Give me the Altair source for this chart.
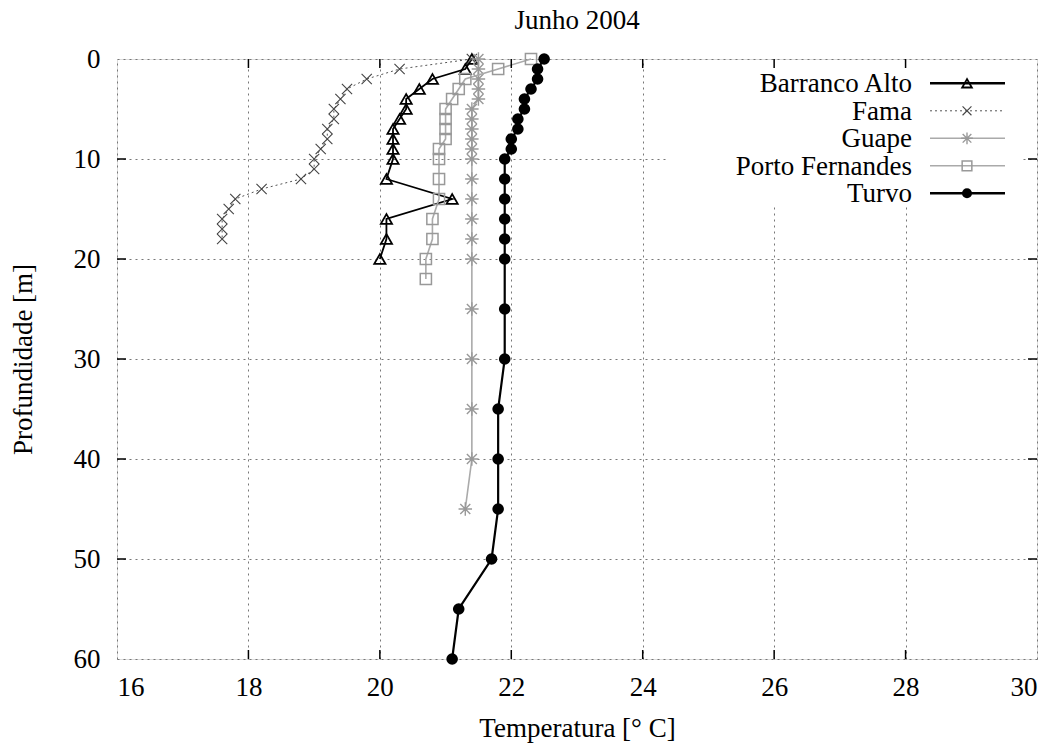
import altair as alt
import pandas as pd

# ---------------- data ----------------
series_names = ["Barranco Alto", "Fama", "Guape", "Porto Fernandes", "Turvo"]

ba_depth = [0, 1, 2, 3, 4, 5, 6, 7, 8, 9, 10, 12, 14, 16, 18, 20]
ba_temp = [21.4, 21.3, 20.8, 20.6, 20.4, 20.4, 20.3, 20.2, 20.2, 20.2, 20.2, 20.1, 21.1, 20.1, 20.1, 20.0]

fa_depth = [0, 1, 2, 3, 4, 5, 6, 7, 8, 9, 10, 11, 12, 13, 14, 15, 16, 17, 18]
fa_temp = [21.4, 20.3, 19.8, 19.5, 19.4, 19.3, 19.3, 19.2, 19.2, 19.1, 19.0, 19.0, 18.8, 18.2, 17.8, 17.7, 17.6, 17.6, 17.6]

gu_depth = [0, 1, 2, 3, 4, 5, 6, 7, 8, 9, 10, 12, 14, 16, 18, 20, 25, 30, 35, 40, 45]
gu_temp = [21.5, 21.5, 21.5, 21.5, 21.5, 21.4, 21.4, 21.4, 21.4, 21.4, 21.4, 21.4, 21.4, 21.4, 21.4, 21.4, 21.4, 21.4, 21.4, 21.4, 21.3]

pf_depth = [0, 1, 2, 3, 4, 5, 6, 7, 8, 9, 10, 12, 14, 16, 18, 20, 22]
pf_temp = [22.3, 21.8, 21.3, 21.2, 21.1, 21.0, 21.0, 21.0, 21.0, 20.9, 20.9, 20.9, 20.9, 20.8, 20.8, 20.7, 20.7]

tu_depth = [0, 1, 2, 3, 4, 5, 6, 7, 8, 9, 10, 12, 14, 16, 18, 20, 25, 30, 35, 40, 45, 50, 55, 60]
tu_temp = [22.5, 22.4, 22.4, 22.3, 22.2, 22.2, 22.1, 22.1, 22.0, 22.0, 21.9, 21.9, 21.9, 21.9, 21.9, 21.9, 21.9, 21.9, 21.8, 21.8, 21.8, 21.7, 21.2, 21.1]

x_ticks = [16, 18, 20, 22, 24, 26, 28, 30]
y_ticks = [0, 10, 20, 30, 40, 50, 60]

title_text = "Junho 2004"
x_title = "Temperatura [° C]"
y_title = "Profundidade [m]"

# ---------------- styling ----------------
FONT = "Liberation Serif"
FS = 27
W, H = 920, 600

X_PATH = "M-1,-1L1,1M-1,1L1,-1"
STAR_PATH = "M-1,-1L1,1M-1,1L1,-1M0,-1.35L0,1.35M-1.35,0L1.35,0"

styles = {
    "Barranco Alto": dict(line="#000000", lw=1.8, dash=None, shape="triangle-up",
                          mcolor="#000000", filled=False, size=125, mw=1.8, leg_lw=2.6),
    "Fama": dict(line="#555555", lw=1.0, dash=[2, 3], shape=X_PATH,
                 mcolor="#444444", filled=False, size=105, mw=1.1, leg_lw=1.0),
    "Guape": dict(line="#aaaaaa", lw=1.6, dash=None, shape=STAR_PATH,
                  mcolor="#999999", filled=False, size=100, mw=1.4, leg_lw=1.6),
    "Porto Fernandes": dict(line="#aaaaaa", lw=1.6, dash=None, shape="square",
                            mcolor="#999999", filled=False, size=125, mw=1.5, leg_lw=1.6),
    "Turvo": dict(line="#000000", lw=2.2, dash=None, shape="circle",
                  mcolor="#000000", filled=True, size=135, mw=1.0, leg_lw=2.6),
}

data_map = {
    "Barranco Alto": (ba_depth, ba_temp),
    "Fama": (fa_depth, fa_temp),
    "Guape": (gu_depth, gu_temp),
    "Porto Fernandes": (pf_depth, pf_temp),
    "Turvo": (tu_depth, tu_temp),
}

xs = alt.Scale(domain=[16, 30], nice=False, zero=False)
ys = alt.Scale(domain=[0, 60], nice=False, zero=False, reverse=True)

x_axis = alt.Axis(values=x_ticks, title=x_title, grid=True, ticks=False, tickSize=0,
                  domain=False, labelPadding=15, labelFontSize=FS, labelFont=FONT,
                  labelColor="black", titleFont=FONT, titleFontSize=FS,
                  titleFontWeight="normal", titleColor="black",
                  titleX=W / 2, titleY=77, titleBaseline="alphabetic",
                  gridColor="#777777", gridDash=[2, 4], gridWidth=1)
y_axis = alt.Axis(values=y_ticks, title=y_title, grid=True, ticks=False, tickSize=0,
                  domain=False, labelPadding=17, labelFontSize=FS, labelFont=FONT,
                  labelColor="black", titleFont=FONT, titleFontSize=FS,
                  titleFontWeight="normal", titleColor="black",
                  titleX=-94, titleY=H / 2, titleBaseline="middle", titleAngle=270,
                  gridColor="#777777", gridDash=[2, 4], gridWidth=1)

layers = []

# white box behind legend (hides the grid there)
box_df = pd.DataFrame({"k": [0]})
layers.append(
    alt.Chart(box_df).mark_rect(color="white").encode(
        x=alt.value(551), x2=alt.value(905), y=alt.value(1), y2=alt.value(148)
    )
)

# series lines and markers
for name in series_names:
    d, t = data_map[name]
    df = pd.DataFrame({"depth": d, "temp": t, "series": name})
    st = styles[name]
    line_kw = dict(color=st["line"], strokeWidth=st["lw"], clip=False)
    if st["dash"]:
        line_kw["strokeDash"] = st["dash"]
    enc = dict(x=alt.X("temp:Q", scale=xs, axis=x_axis),
               y=alt.Y("depth:Q", scale=ys, axis=y_axis))
    layers.append(alt.Chart(df).mark_line(**line_kw).encode(order=alt.Order("depth:Q"), **enc))
    pt_kw = dict(shape=st["shape"], size=st["size"], filled=st["filled"], opacity=1)
    if st["filled"]:
        pt_kw.update(fill=st["mcolor"], color=st["mcolor"], strokeWidth=0)
    else:
        pt_kw.update(stroke=st["mcolor"], color=st["mcolor"], strokeWidth=st["mw"])
    layers.append(alt.Chart(df).mark_point(**pt_kw).encode(**enc))

# inward ticks on all four sides
xt_df = pd.DataFrame({"t": x_ticks[1:-1]})
yt_df = pd.DataFrame({"d": y_ticks[1:-1]})
tick_x = alt.X("t:Q", scale=xs, axis=x_axis)
tick_y = alt.Y("d:Q", scale=ys, axis=y_axis)
layers.append(alt.Chart(xt_df).mark_rule(color="black", strokeWidth=1.5).encode(
    x=tick_x, y=alt.value(H), y2=alt.value(H - 9)))
layers.append(alt.Chart(xt_df).mark_rule(color="black", strokeWidth=1.5).encode(
    x=tick_x, y=alt.value(0), y2=alt.value(9)))
layers.append(alt.Chart(yt_df).mark_rule(color="black", strokeWidth=1.5).encode(
    y=tick_y, x=alt.value(0), x2=alt.value(9)))
layers.append(alt.Chart(yt_df).mark_rule(color="black", strokeWidth=1.5).encode(
    y=tick_y, x=alt.value(W), x2=alt.value(W - 9)))

# legend (labels left of the sample line, as in the reference)
for i, name in enumerate(series_names):
    st = styles[name]
    ypix = 24.3 + i * 27.5
    one = pd.DataFrame({"name": [name]})
    layers.append(alt.Chart(one).mark_text(
        align="right", baseline="middle", font=FONT, fontSize=FS, color="black", dy=1
    ).encode(x=alt.value(795), y=alt.value(ypix), text="name:N"))
    rule_kw = dict(color=st["line"] if name != "Fama" else "#555555", strokeWidth=st["leg_lw"])
    if st["dash"]:
        rule_kw["strokeDash"] = st["dash"]
    layers.append(alt.Chart(one).mark_rule(**rule_kw).encode(
        x=alt.value(813), x2=alt.value(888), y=alt.value(ypix)))
    pt_kw = dict(shape=st["shape"], size=st["size"] * 0.75, filled=st["filled"], opacity=1)
    if st["filled"]:
        pt_kw.update(fill=st["mcolor"], color=st["mcolor"], strokeWidth=0)
    else:
        pt_kw.update(stroke=st["mcolor"], color=st["mcolor"], strokeWidth=st["mw"], fill="white", fillOpacity=0)
    layers.append(alt.Chart(one).mark_point(**pt_kw).encode(
        x=alt.value(850), y=alt.value(ypix)))

# chart title, drawn as a text mark above the plot area
title_df = pd.DataFrame({"title": [title_text]})
layers.append(alt.Chart(title_df).mark_text(
    align="center", baseline="alphabetic", font=FONT, fontSize=FS, color="black"
).encode(x=alt.value(W / 2), y=alt.value(-30), text="title:N"))

chart = alt.layer(*layers).properties(
    width=W, height=H,
    autosize=alt.AutoSizeParams(type="none"),
    padding={"left": 117, "top": 59, "right": 25, "bottom": 87},
).configure_view(stroke="black", strokeWidth=2).configure(background="white")

chart.save("out.html", embed_options={"renderer": "svg", "actions": False})
